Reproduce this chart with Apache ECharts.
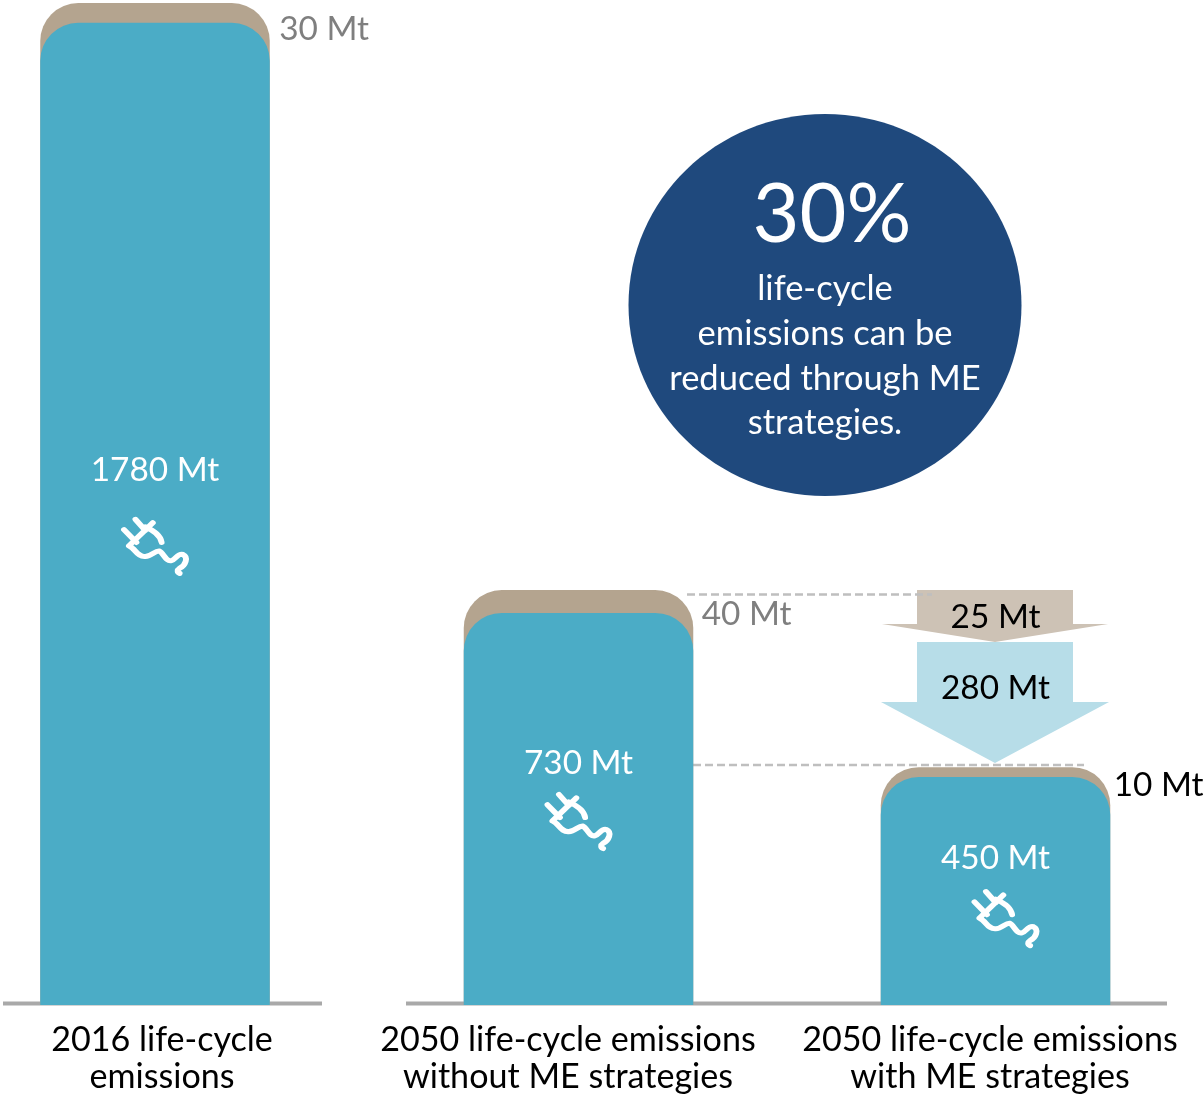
<!DOCTYPE html>
<html><head><meta charset="utf-8">
<style>html,body{margin:0;padding:0;background:#fff}#c{width:1204px;height:1095px}</style>
<script src="https://cdn.jsdelivr.net/npm/echarts@6/dist/echarts.min.js"></script>
</head><body><div id="c"></div>
<script>
// Category labels
const categories = ['2016 life-cycle\nemissions','2050 life-cycle emissions\nwithout ME strategies','2050 life-cycle emissions\nwith ME strategies'];
// Printed values
const useLabels = ['1780 Mt','730 Mt','450 Mt'];
const embodiedLabels = ['30 Mt','40 Mt','10 Mt'];
const reductionLabels = ['25 Mt','280 Mt'];
// Bar heights (the reference's bars are not strictly to scale with their printed values)
const useHeights = [1780, 710.5, 413];
const totalHeights = [1816, 752, 431];
const calloutBig = '30%';
const calloutLines = ['life-cycle','emissions can be','reduced through ME','strategies.'];

const FONT = 'Lato, "Open Sans", sans-serif';
const FS = 34.5, FS_CAT = 34.1, FS_VAL = 33.4;
const BLUE = '#4BACC6', TAN = '#B4A48F';
// Presentation only
const labelDrop = [447, 150, 81];
const capLabelPos = [[239,26],[238,24],[233,18]];
const capLabelColor = ['#7f7f7f','#7f7f7f','#000'];
const labelPad = [[0,0,0,14],[0,21,0,0],[0,11,0,0]];
const iconOffset = [[0,523.5],[0,208.5],[10,141.5]];

function barSeries(name, grid, vals, color, labelFn){
  return {type:'bar', name, xAxisIndex:grid, yAxisIndex:grid, barWidth:229.5, barGap:'-100%',
    animation:false, silent:true,
    itemStyle:{color, borderRadius:[38,38,0,0]},
    data: vals.map(labelFn)};
}
const useItem = off => (v,i)=>({value:v,label:{show:true,formatter:useLabels[i+off],position:['50%',labelDrop[i+off]],
  align:'center',verticalAlign:'middle',color:'#fff',fontSize:FS_VAL,fontFamily:FONT}});
const capItem = off => (v,i)=>({value:v,label:{show:true,formatter:embodiedLabels[i+off],position:capLabelPos[i+off],
  align:'left',verticalAlign:'middle',color:capLabelColor[i+off],fontSize:FS_VAL,fontFamily:FONT}});

const rich = {};
labelPad.forEach((p,i)=>{rich['c'+i]={padding:p,fontSize:FS_CAT,fontFamily:FONT,color:'#000',lineHeight:37,align:'center'};});
const catFmt = off => (v,i)=>String(v).split('\n').map(l=>`{c${i+off}|${l}}`).join('\n');
const xAx = (g,data,off)=>({type:'category',gridIndex:g,data,axisLine:{show:false},axisTick:{show:false},
  axisLabel:{interval:0,margin:17,formatter:catFmt(off),rich,hideOverlap:false}});
const yAx = g=>({type:'value',gridIndex:g,min:0,max:1816,show:false,splitLine:{show:false}});

// plug icon, drawn in its own coordinates
const plug = 'path://M105 58L135 90M70 88L108 125M158 68L85 135M135 80C165 92 182 108 185 125M85 135C105 142 110 168 135 166C155 165 165 148 178 150C190 155 198 182 215 178C228 175 235 155 250 160C268 168 258 192 240 200C232 205 232 212 240 215';
function iconSeries(grid, vals, off){
  return {type:'scatter', xAxisIndex:grid, yAxisIndex:grid, silent:true, animation:false, z:6,
    symbol:plug, symbolSize:[62,54],
    itemStyle:{color:'none',borderColor:'#fff',borderWidth:5.5,borderCap:'round',borderJoin:'round',opacity:1},
    data: vals.map((v,i)=>({value:[i,v],symbolOffset:iconOffset[i+off]}))};
}

const txt = (text,x,y,size,fill)=>({type:'text',style:{text,x,y,align:'center',verticalAlign:'middle',fill,font:`${size}px ${FONT}`}});
const rule = (x1,x2,y,w,c,dash)=>({type:'line',shape:{x1,y1:y,x2,y2:y},style:{stroke:c,lineWidth:w,lineDash:dash?[8,4]:null}});
const poly = (points,fill)=>({type:'polygon',shape:{points},style:{fill}});

const option = {
  backgroundColor:'#fff',
  animation:false,
  grid:[{left:40,width:230,top:3,height:1002},{left:370,width:834,top:3,height:1002}],
  xAxis:[xAx(0,categories.slice(0,1),0),xAx(1,categories.slice(1),1)],
  yAxis:[yAx(0),yAx(1)],
  series:[
    barSeries('Embodied',0,totalHeights.slice(0,1),TAN,capItem(0)),
    barSeries('Use',0,useHeights.slice(0,1),BLUE,useItem(0)),
    barSeries('Embodied',1,totalHeights.slice(1),TAN,capItem(1)),
    barSeries('Use',1,useHeights.slice(1),BLUE,useItem(1)),
    iconSeries(0,useHeights.slice(0,1),0),
    iconSeries(1,useHeights.slice(1),1),
  ],
  graphic:{elements:[
    rule(3,322,1003.5,4,'#a9a9a9'), rule(406,1167,1003.5,4,'#a9a9a9'),
    {type:'ellipse',shape:{cx:825,cy:305,rx:196.5,ry:191},style:{fill:'#1F497D'}},
    txt(calloutBig,832,215.5,81,'#fff'),
    ...calloutLines.map((l,i)=>txt(l,825,289+i*44.7,FS,'#fff')),
    poly([[917,590],[1073,590],[1073,624],[1108,624],[995,642],[882,624],[917,624]],'#CDC2B5'),
    poly([[917,642],[1073,642],[1073,702],[1109,702],[995,763],[881,702],[917,702]],'#B7DDE8'),
    rule(687,932,594.5,2.4,'#bfbfbf',true), rule(693,1084,765,2.4,'#bfbfbf',true),
    txt(reductionLabels[0],995.5,617,FS_VAL,'#000'), txt(reductionLabels[1],995.5,688,FS_VAL,'#000'),
  ]}
};
echarts.init(document.getElementById('c'),null,{renderer:'canvas'}).setOption(option);
</script></body></html>
